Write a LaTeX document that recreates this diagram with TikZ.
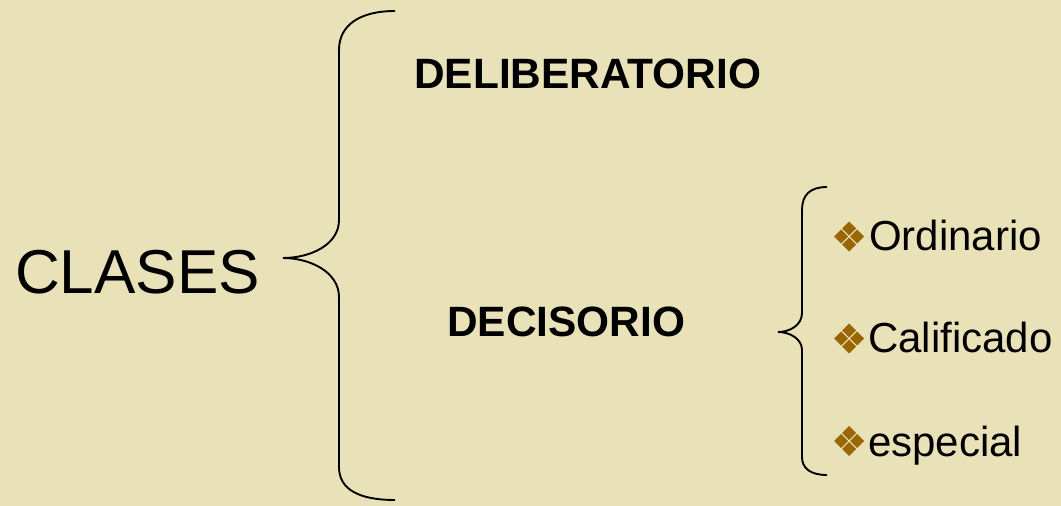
\documentclass[tikz,border=0pt]{standalone}
\usepackage{fontspec}
\setmainfont{Liberation Sans}
\definecolor{bg}{HTML}{E9E1B7}
\definecolor{bul}{HTML}{996600}
\tikzset{
  big/.style={inner sep=0pt, anchor=base west, font=\fontsize{62}{68}\selectfont},
  head/.style={inner sep=0pt, anchor=base west, font=\bfseries\fontsize{42.4}{46}\selectfont},
  item/.style={inner sep=0pt, anchor=base west, font=\fontsize{42}{46}\selectfont},
  brace/.style={line width=1.9pt, black},
  bulletmark/.pic={
    \foreach \dx/\dy in {0/-8, -8/0, 8/0, 0/8}
      \fill[bul] (\dx,\dy) ++(0,-7) -- ++(7,7) -- ++(-7,7) -- ++(-7,-7) -- cycle;
  }
}
\begin{document}
\begin{tikzpicture}[x=1pt,y=-1pt]
\fill[bg] (0,0) rectangle (1061,506);
\useasboundingbox (0,0) rectangle (1061,506);
% texts
\node[big] (clases) at (15,293) {CLASES};
\node[head] (delib) at (414,88) {DELIBERATORIO};
\node[head] (decis) at (447,336) {DECISORIO};
\node[item] (ord) at (869,250) {Ordinario};
\node[item] (cal) at (868,352) {Calificado};
\node[item] (esp) at (868,456) {especial};
% bullets
\pic at (849,236.5) {bulletmark};
\pic at (849,338.5) {bulletmark};
\pic at (849,441) {bulletmark};
% big brace
\coordinate (bt) at (395,11);
\coordinate (btip) at (283,258);
\coordinate (bb) at (395,500);
\draw[brace] (bt) .. controls (360,11) and (339,25) .. (339,50) -- (339,220)
  .. controls (339,245) and (310,258) .. (btip)
  .. controls (310,258) and (339,272) .. (339,297) -- (339,467)
  .. controls (339,490) and (360,500) .. (bb);
% small brace
\coordinate (st) at (827,187);
\coordinate (stip) at (778,332);
\coordinate (sb) at (827,475);
\draw[brace] (st) .. controls (810,187) and (802,195) .. (802,210) -- (802,313)
  .. controls (802,325) and (790,332) .. (stip)
  .. controls (790,332) and (802,339) .. (802,350) -- (802,457)
  .. controls (802,468) and (810,475) .. (sb);
\end{tikzpicture}
\end{document}
